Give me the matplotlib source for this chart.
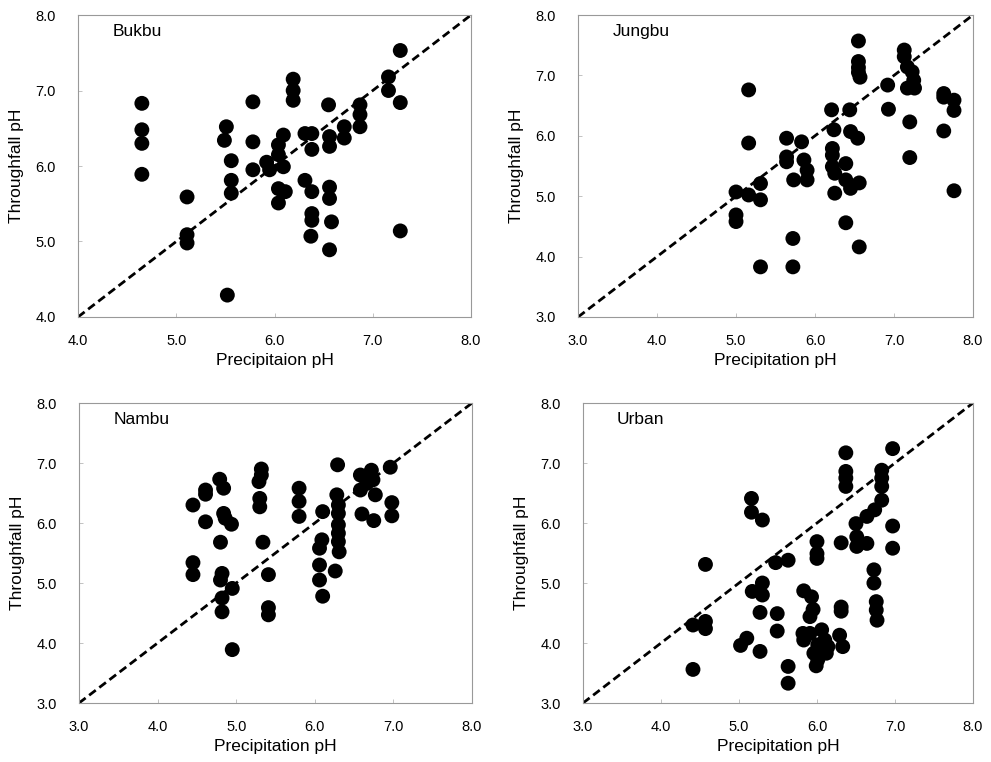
import matplotlib
matplotlib.use("Agg")
import matplotlib.pyplot as plt
import numpy as np

plt.rcParams["font.family"] = ["Liberation Sans", "DejaVu Sans"]

# Bukbu: precipitation pH vs throughfall pH
bukbu_x = [4.65, 4.65, 4.65, 4.65, 5.11, 5.11, 5.11,
           5.51, 5.49, 5.56, 5.56, 5.56, 5.52,
           5.78, 5.78, 5.78, 5.92, 5.95,
           6.19, 6.19, 6.19, 6.09, 6.04, 6.04, 6.09,
           6.04, 6.11, 6.04,
           6.31, 6.38, 6.38, 6.55, 6.56, 6.56, 6.71, 6.71,
           6.87, 6.87, 6.87, 7.16, 7.16, 7.28, 7.28, 7.28,
           6.31, 6.38, 6.56, 6.56, 6.38, 6.38, 6.37, 6.58, 6.56]
bukbu_y = [6.83, 6.48, 6.30, 5.89, 5.59, 5.09, 4.98,
           6.52, 6.34, 6.07, 5.81, 5.64, 4.29,
           6.85, 6.32, 5.95, 6.05, 5.95,
           7.15, 7.00, 6.87, 6.41, 6.28, 6.15, 5.99,
           5.70, 5.66, 5.51,
           6.43, 6.43, 6.22, 6.81, 6.39, 6.26, 6.52, 6.37,
           6.81, 6.68, 6.52, 7.18, 7.00, 7.53, 6.84, 5.14,
           5.81, 5.66, 5.72, 5.57, 5.37, 5.28, 5.07, 5.26, 4.89]

jungbu_x = [5.16, 5.16, 5.00, 5.16, 5.31, 5.31, 5.00, 5.00, 5.31,
            5.64, 5.83, 5.64, 5.64, 5.86, 5.90, 5.73, 5.90, 5.72, 5.72,
            6.21, 6.44, 6.24, 6.45, 6.54, 6.22, 6.22, 6.22, 6.25,
            6.39, 6.39, 6.45, 6.56, 6.25, 6.39, 6.56,
            6.55, 6.55, 6.55, 6.55, 6.57, 6.92, 6.93,
            7.13, 7.13, 7.17, 7.23, 7.25, 7.17, 7.26, 7.20, 7.20,
            7.63, 7.63, 7.76, 7.76, 7.63, 7.76]
jungbu_y = [6.76, 5.88, 5.07, 5.02, 5.21, 4.94, 4.69, 4.58, 3.83,
            5.96, 5.90, 5.65, 5.57, 5.60, 5.43, 5.27, 5.27, 4.30, 3.83,
            6.43, 6.43, 6.10, 6.07, 5.96, 5.79, 5.68, 5.49, 5.38,
            5.54, 5.27, 5.13, 5.22, 5.05, 4.56, 4.16,
            7.57, 7.23, 7.13, 7.05, 6.97, 6.84, 6.44,
            7.42, 7.31, 7.14, 7.06, 6.92, 6.79, 6.79, 6.23, 5.64,
            6.70, 6.64, 6.59, 6.42, 6.08, 5.09]

nambu_x = [4.45, 4.45, 4.45, 4.61, 4.61, 4.61, 4.79, 4.84,
           4.84, 4.86, 4.94, 4.80, 4.82, 4.80, 4.95, 4.82, 4.82, 4.95,
           5.32, 5.32, 5.29, 5.30, 5.30, 5.34, 5.41, 5.41, 5.41,
           5.80, 5.80, 5.80, 6.29, 6.10, 6.28, 6.30, 6.30,
           6.30, 6.30, 6.30, 6.31, 6.09, 6.06, 6.06, 6.06, 6.10, 6.26,
           6.58, 6.72, 6.58, 6.74, 6.77, 6.66, 6.96, 6.60, 6.75, 6.98, 6.98]
nambu_y = [5.34, 5.14, 6.30, 6.55, 6.48, 6.02, 6.73, 6.58,
           6.16, 6.08, 5.98, 5.68, 5.16, 5.05, 4.91, 4.75, 4.52, 3.89,
           6.90, 6.80, 6.69, 6.41, 6.27, 5.68, 5.14, 4.59, 4.47,
           6.58, 6.36, 6.11, 6.97, 6.19, 6.47, 6.30, 6.16,
           5.97, 5.83, 5.69, 5.52, 5.72, 5.58, 5.30, 5.05, 4.78, 5.20,
           6.80, 6.88, 6.55, 6.72, 6.47, 6.66, 6.93, 6.15, 6.04, 6.34, 6.12]

urban_x = [4.41, 4.41, 4.57, 4.57, 4.57, 5.02, 5.10, 5.27,
           5.16, 5.16, 5.30, 5.30, 5.17, 5.30, 5.27,
           5.47, 5.63, 5.49, 5.49, 5.63, 5.63,
           5.83, 5.93, 5.95, 5.91, 5.82, 5.83, 5.91, 6.06, 6.10, 6.14,
           5.96, 6.01, 5.99, 6.12, 6.01,
           6.00, 6.00, 6.00, 6.31, 6.31, 6.29, 6.33, 6.31,
           6.37, 6.37, 6.37, 6.37,
           6.50, 6.51, 6.51, 6.64, 6.64, 6.74, 6.83,
           6.83, 6.83, 6.83, 6.97, 6.97, 6.97,
           6.73, 6.73, 6.76, 6.76, 6.77]
urban_y = [4.30, 3.56, 5.31, 4.36, 4.24, 3.96, 4.08, 3.86,
           6.41, 6.18, 6.05, 5.00, 4.86, 4.80, 4.51,
           5.34, 5.38, 4.49, 4.20, 3.61, 3.33,
           4.87, 4.77, 4.56, 4.44, 4.16, 4.05, 4.16, 4.22, 4.05, 3.94,
           3.83, 3.72, 3.62, 3.83, 3.97,
           5.69, 5.49, 5.41, 4.60, 4.53, 4.13, 3.94, 5.67,
           7.17, 6.86, 6.75, 6.61,
           5.99, 5.77, 5.61, 5.66, 6.11, 6.22, 6.38,
           6.88, 6.75, 6.61, 7.24, 5.95, 5.58,
           5.22, 5.00, 4.69, 4.55, 4.38]

panels = [
    ("Bukbu", bukbu_x, bukbu_y, 4.0, "Precipitaion pH"),
    ("Jungbu", jungbu_x, jungbu_y, 3.0, "Precipitation pH"),
    ("Nambu", nambu_x, nambu_y, 3.0, "Precipitation pH"),
    ("Urban", urban_x, urban_y, 3.0, "Precipitation pH"),
]

# axes boxes in figure fractions (left, bottom, width, height)
boxes = [
    (0.0787, 0.584, 0.3966, 0.3963),
    (0.5833, 0.584, 0.3985, 0.3963),
    (0.0797, 0.0774, 0.3966, 0.3937),
    (0.5883, 0.0774, 0.3935, 0.3937),
]

fig = plt.figure(figsize=(9.91, 7.62), dpi=100)

for (name, xs, ys, lo, xlabel), box in zip(panels, boxes):
    ax = fig.add_axes(box)
    ax.plot([lo, 8.0], [lo, 8.0], color="black", lw=2.0,
            linestyle=(0, (3, 1.6)), zorder=2)
    ax.scatter(xs, ys, s=115, color="black", edgecolors="none", zorder=3)
    ax.set_xlim(lo, 8.0)
    ax.set_ylim(lo, 8.0)
    ticks = np.arange(lo, 8.01, 1.0)
    ax.set_xticks(ticks)
    ax.set_yticks(ticks)
    ax.set_xticklabels([f"{t:.1f}" for t in ticks])
    ax.set_yticklabels([f"{t:.1f}" for t in ticks])
    ax.tick_params(direction="in", length=3, width=0.5, color="#aaaaaa",
                   labelsize=10.5, pad=12)
    ax.tick_params(axis="y", pad=16)
    for sp in ax.spines.values():
        sp.set_color("#999999")
        sp.set_linewidth(0.8)
    ax.text(0.087, 0.945, name, transform=ax.transAxes, fontsize=12.5,
            ha="left", va="center")
    ax.set_xlabel(xlabel, fontsize=12.5, labelpad=4)
    ax.set_ylabel("Throughfall pH", fontsize=12.5, labelpad=8)

fig.savefig("out.png", dpi=100)
plt.close(fig)
